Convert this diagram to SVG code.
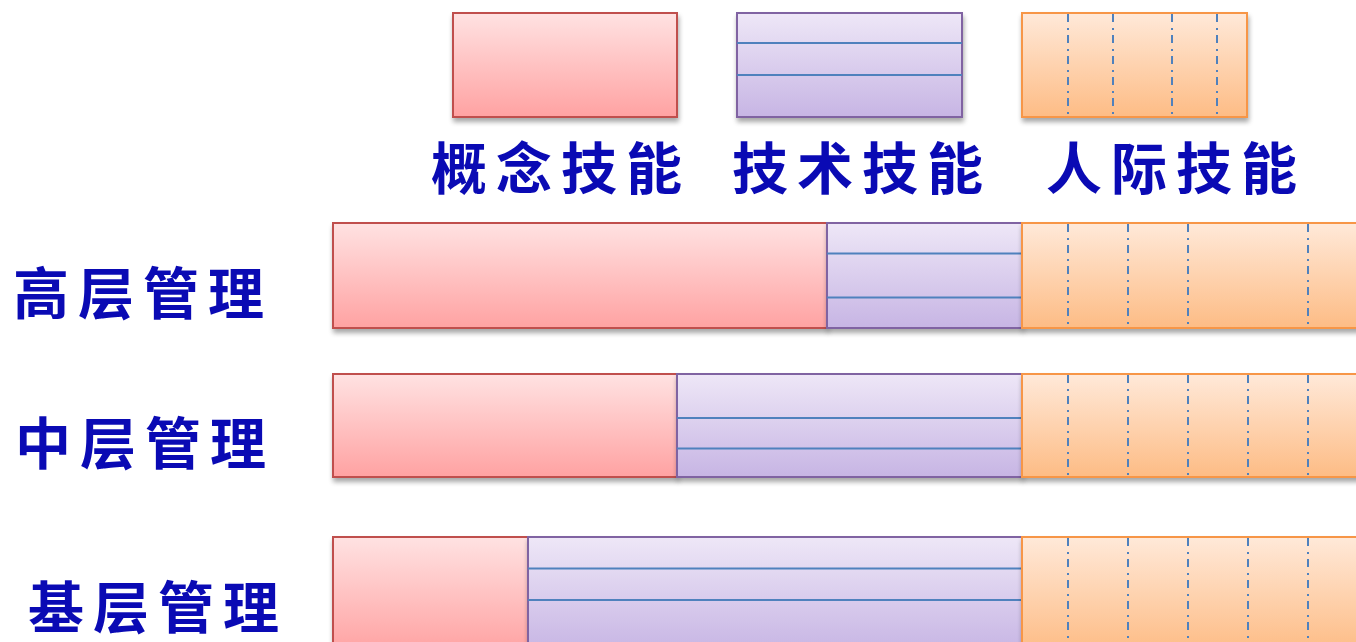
<svg xmlns="http://www.w3.org/2000/svg" width="1356" height="642" viewBox="0 0 1356 642">
<defs>
<linearGradient id="gRed" x1="0" y1="0" x2="0" y2="1"><stop offset="0" stop-color="#FFE2E2"/><stop offset="1" stop-color="#FFA2A2"/></linearGradient>
<linearGradient id="gPur" x1="0" y1="0" x2="0" y2="1"><stop offset="0" stop-color="#EEE7F7"/><stop offset="1" stop-color="#C7B5E4"/></linearGradient>
<linearGradient id="gOra" x1="0" y1="0" x2="0" y2="1"><stop offset="0" stop-color="#FFE9D9"/><stop offset="1" stop-color="#FDBC85"/></linearGradient>
<filter id="sh" x="-5%" y="-10%" width="110%" height="130%"><feGaussianBlur in="SourceAlpha" stdDeviation="2.5"/><feOffset dx="1" dy="4"/><feComponentTransfer><feFuncA type="linear" slope="0.35"/></feComponentTransfer><feMerge><feMergeNode/><feMergeNode in="SourceGraphic"/></feMerge></filter>
</defs>
<style>
.red{fill:url(#gRed);stroke:#C0504D;stroke-width:2}
.pur{fill:url(#gPur);stroke:#8064A2;stroke-width:2}
.ora{fill:url(#gOra);stroke:#F79646;stroke-width:2}
.hl{stroke:#4F81BD;stroke-width:2;fill:none}
.vl{stroke:#4F81BD;stroke-width:2;fill:none;stroke-dasharray:8 6 2 5}
.t{font-family:"Noto Sans CJK SC","Noto Sans CJK TC",sans-serif;font-weight:bold;font-size:56px;fill:#0A0AB4;letter-spacing:9px}
</style>
<rect width="1356" height="642" fill="#FFFFFF"/>

<g id="legend-concept">
<rect class="red" x="453" y="13" width="224" height="104" filter="url(#sh)"/>
<text class="t" x="431" y="189">概念技能</text>
</g>
<g id="legend-tech">
<rect class="pur" x="737" y="13" width="225" height="104" filter="url(#sh)"/>
<line class="hl" x1="737" y1="43" x2="962" y2="43"/>
<line class="hl" x1="737" y1="75" x2="962" y2="75"/>
<text class="t" x="732" y="189">技术技能</text>
</g>
<g id="legend-people">
<rect class="ora" x="1022" y="13" width="225" height="104" filter="url(#sh)"/>
<line class="vl" x1="1068" y1="14" x2="1068" y2="117"/>
<line class="vl" x1="1113" y1="14" x2="1113" y2="117"/>
<line class="vl" x1="1172" y1="14" x2="1172" y2="117"/>
<line class="vl" x1="1217" y1="14" x2="1217" y2="117"/>
<text class="t" x="1046" y="189">人际技能</text>
</g>

<g id="row-top">
<text class="t" x="13" y="314">高层管理</text>
<rect class="red" x="333" y="223" width="494" height="105" filter="url(#sh)"/>
<rect class="pur" x="827" y="223" width="195" height="105" filter="url(#sh)"/>
<line class="hl" x1="827" y1="253.5" x2="1022" y2="253.5"/>
<line class="hl" x1="827" y1="297.5" x2="1022" y2="297.5"/>
<rect class="ora" x="1022" y="223" width="340" height="105" filter="url(#sh)"/>
<line class="vl" x1="1068" y1="224" x2="1068" y2="328"/>
<line class="vl" x1="1128" y1="224" x2="1128" y2="328"/>
<line class="vl" x1="1188" y1="224" x2="1188" y2="328"/>
<line class="vl" x1="1308" y1="224" x2="1308" y2="328"/>
</g>

<g id="row-middle">
<text class="t" x="15" y="464">中层管理</text>
<rect class="red" x="333" y="374" width="344" height="103" filter="url(#sh)"/>
<rect class="pur" x="677" y="374" width="345" height="103" filter="url(#sh)"/>
<line class="hl" x1="677" y1="418" x2="1022" y2="418"/>
<line class="hl" x1="677" y1="448.5" x2="1022" y2="448.5"/>
<rect class="ora" x="1022" y="374" width="340" height="103" filter="url(#sh)"/>
<line class="vl" x1="1068" y1="375" x2="1068" y2="477"/>
<line class="vl" x1="1128" y1="375" x2="1128" y2="477"/>
<line class="vl" x1="1188" y1="375" x2="1188" y2="477"/>
<line class="vl" x1="1248" y1="375" x2="1248" y2="477"/>
<line class="vl" x1="1308" y1="375" x2="1308" y2="477"/>
</g>

<g id="row-base">
<text class="t" x="28" y="628">基层管理</text>
<rect class="red" x="333" y="537" width="195" height="115" filter="url(#sh)"/>
<rect class="pur" x="528" y="537" width="494" height="115" filter="url(#sh)"/>
<line class="hl" x1="528" y1="568.5" x2="1022" y2="568.5"/>
<line class="hl" x1="528" y1="600" x2="1022" y2="600"/>
<rect class="ora" x="1022" y="537" width="340" height="115" filter="url(#sh)"/>
<line class="vl" x1="1068" y1="538" x2="1068" y2="642"/>
<line class="vl" x1="1128" y1="538" x2="1128" y2="642"/>
<line class="vl" x1="1188" y1="538" x2="1188" y2="642"/>
<line class="vl" x1="1248" y1="538" x2="1248" y2="642"/>
<line class="vl" x1="1308" y1="538" x2="1308" y2="642"/>
</g>
<g id="connectors"/>
</svg>
